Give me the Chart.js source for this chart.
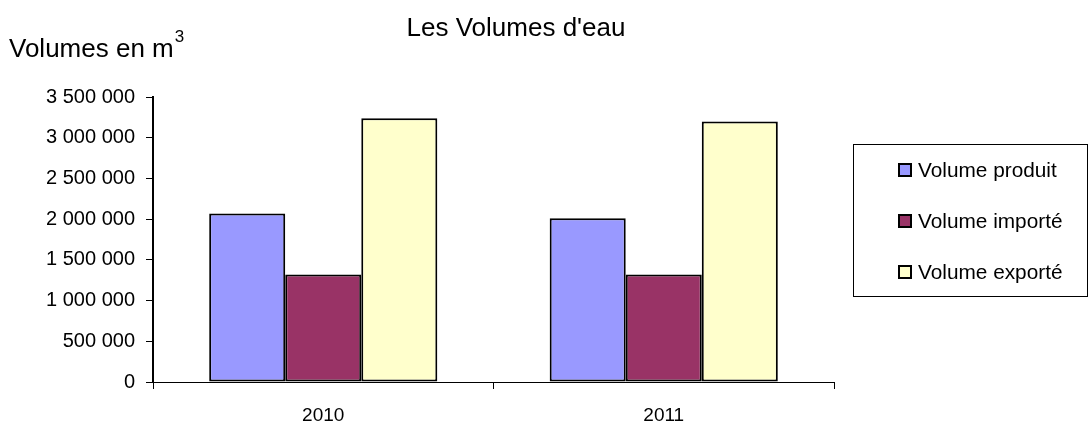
<!DOCTYPE html>
<html lang="fr">
<head>
<meta charset="utf-8">
<title>Les Volumes d'eau</title>
<script src="https://cdn.jsdelivr.net/npm/chart.js@4/dist/chart.umd.min.js"></script>
<style>
  html, body { margin: 0; padding: 0; background: #fff; }
  #chart { display: block; }
</style>
</head>
<body>
<canvas id="chart" width="1089" height="421"></canvas>
<script>
// ─── Data ───
const categories    = ['2010', '2011'];
const volumeProduit = [2070000, 2010000];
const volumeImporte = [1320000, 1320000];
const volumeExporte = [3240000, 3200000];
const seriesLabels  = ['Volume produit', 'Volume importé', 'Volume exporté'];
const seriesColors  = ['#9999FF', '#993366', '#FFFFCC'];

const FONT = "'Liberation Sans', Arial, sans-serif";

// "3500000" -> "3 500 000"
const fmt = v => String(v).replace(/\B(?=(\d{3})+(?!\d))/g, ' ');

// ─── Title, axis title and framed legend drawn on top ───
const decorations = {
  id: 'decorations',
  afterDraw(chart) {
    const ctx = chart.ctx;
    ctx.save();
    ctx.fillStyle = '#000';
    ctx.textBaseline = 'alphabetic';

    // main title
    ctx.font = `26px ${FONT}`;
    ctx.textAlign = 'center';
    ctx.fillText("Les Volumes d'eau", 516, 36);

    // y-axis title with superscript
    ctx.textAlign = 'left';
    ctx.font = `26px ${FONT}`;
    const base = 'Volumes en m';
    ctx.fillText(base, 9, 57);
    const w = ctx.measureText(base).width;
    ctx.font = `17px ${FONT}`;
    ctx.fillText('3', 9 + w + 1, 42);

    // legend frame
    ctx.strokeStyle = '#000';
    ctx.lineWidth = 1;
    ctx.strokeRect(853.5, 144.5, 234, 152);

    // legend items
    ctx.font = `20.8px ${FONT}`;
    ctx.textBaseline = 'middle';
    chart.data.datasets.forEach((ds, i) => {
      const cy = 170 + i * 51;
      ctx.fillStyle = ds.backgroundColor;
      ctx.fillRect(899, cy - 6, 12, 12);
      ctx.lineWidth = 2;
      ctx.strokeRect(899, cy - 6, 12, 12);
      ctx.fillStyle = '#000';
      ctx.fillText(ds.label, 918, cy + 1);
    });
    ctx.restore();
  }
};

const datasets = [volumeProduit, volumeImporte, volumeExporte].map((data, i) => ({
  label: seriesLabels[i],
  data,
  backgroundColor: seriesColors[i],
  borderColor: '#000',
  borderWidth: 2,
  borderSkipped: false,
  barPercentage: 1,
  categoryPercentage: 0.67,
}));

new Chart(document.getElementById('chart'), {
  type: 'bar',
  data: { labels: categories, datasets },
  options: {
    responsive: false,
    animation: false,
    layout: { padding: { top: 97, right: 255, left: 0, bottom: 0 } },
    plugins: {
      legend: { display: false },
      title: { display: false },
      tooltip: { enabled: false },
    },
    scales: {
      x: {
        afterFit: s => { s.height = 39; },
        grid: { offset: true, drawOnChartArea: false, tickLength: 7, color: '#000', lineWidth: 1 },
        border: { color: '#000', width: 1 },
        ticks: { color: '#000', font: { family: FONT, size: 19 }, padding: 15 },
      },
      y: {
        min: 0,
        max: 3500000,
        afterFit: s => { s.width = 153; },
        grid: { drawOnChartArea: false, tickLength: 7, color: '#000', lineWidth: 1 },
        border: { color: '#000', width: 2 },
        ticks: {
          stepSize: 500000,
          color: '#000',
          font: { family: FONT, size: 20 },
          padding: 11,
          callback: v => fmt(v),
        },
      },
    },
  },
  plugins: [decorations],
});
</script>
</body>
</html>
